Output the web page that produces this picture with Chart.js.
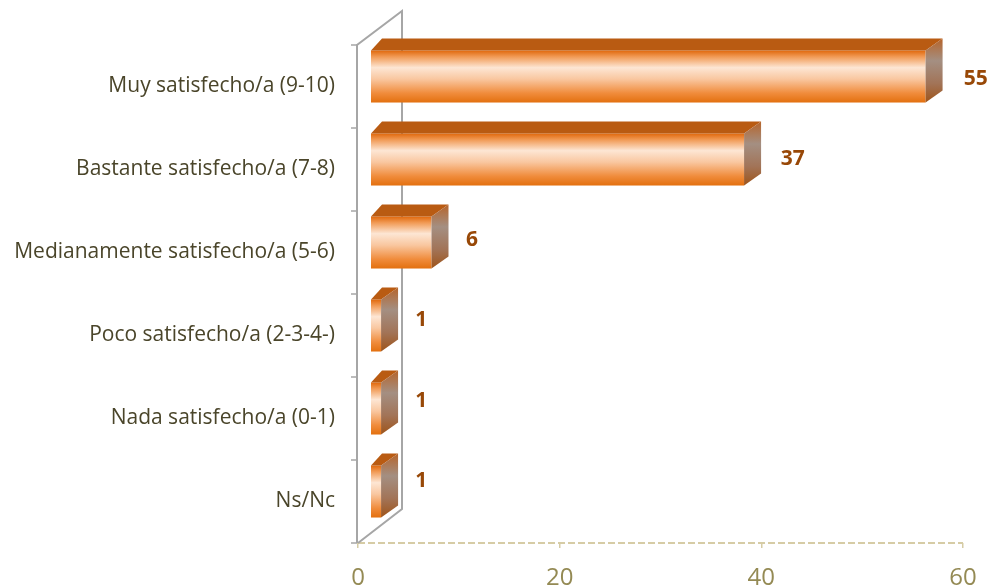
<!DOCTYPE html>
<html>
<head>
<meta charset="utf-8">
<title>Satisfacción</title>
<script src="https://cdn.jsdelivr.net/npm/chart.js@4.4.1/dist/chart.umd.min.js"></script>
<style>
    html, body { margin: 0; padding: 0; background: #fff; }
    #contenedor { width: 995px; height: 587px; }
</style>
</head>
<body>
<div id="contenedor"><canvas id="grafico"></canvas></div>
<script>
// Datos de la encuesta
const categorias = [
    'Muy satisfecho/a (9-10)',
    'Bastante satisfecho/a (7-8)',
    'Medianamente satisfecho/a (5-6)',
    'Poco satisfecho/a (2-3-4-)',
    'Nada satisfecho/a (0-1)',
    'Ns/Nc'
];
const valores = [55, 37, 6, 1, 1, 1];
const ticksX = [0, 20, 40, 60];

// Profundidad del efecto 3D
const FONDO_DX = 45, FONDO_DY = -34;   // pared del fondo
const BARRA_DX = 13, BARRA_DY = -10;   // desplazamiento de la cara frontal
const LADO_DX = 17, LADO_DY = -12;     // cara lateral derecha
const TAPA_DX = 11;                    // esquina trasera izquierda de la tapa

// Pared izquierda, suelo punteado y líneas de fondo
const pared3d = {
    id: 'pared3d',
    beforeDatasetsDraw(chart) {
        const { ctx, chartArea } = chart;
        const izq = chartArea.left - 1;
        const arr = chartArea.top, abj = chartArea.bottom;
        ctx.save();
        // borde delantero del suelo
        ctx.strokeStyle = '#d6cca5';
        ctx.lineWidth = 2;
        ctx.setLineDash([7, 3]);
        ctx.beginPath();
        ctx.moveTo(chartArea.left, abj);
        ctx.lineTo(chartArea.right, abj);
        ctx.stroke();
        ctx.setLineDash([]);

        ctx.strokeStyle = '#a6a6a6';
        ctx.lineWidth = 2;
        ctx.beginPath();
        ctx.moveTo(izq, abj);
        ctx.lineTo(izq, arr);
        ctx.lineTo(izq + FONDO_DX, arr + FONDO_DY);
        ctx.lineTo(izq + FONDO_DX, abj + FONDO_DY);
        ctx.lineTo(izq + 1, abj);
        ctx.stroke();
        // marcas entre categorías
        ctx.lineWidth = 1.5;
        for (let i = 0; i <= categorias.length; i++) {
            const py = Math.round(arr + (abj - arr) * i / categorias.length);
            ctx.beginPath();
            ctx.moveTo(izq - 6, py);
            ctx.lineTo(izq, py);
            ctx.stroke();
        }
        ctx.restore();
    }
};

// Barras con caras frontal, superior y lateral
const barras3d = {
    id: 'barras3d',
    afterDatasetsDraw(chart) {
        const { ctx } = chart;
        const meta = chart.getDatasetMeta(0);
        const escalaX = chart.scales.x;
        meta.data.forEach((barra, i) => {
            const x0 = escalaX.getPixelForValue(0) + BARRA_DX;
            const x1 = barra.x + BARRA_DX;
            const yT = barra.y - barra.height / 2 + BARRA_DY;
            const yB = barra.y + barra.height / 2 + BARRA_DY;

            // cara frontal
            const gFrente = ctx.createLinearGradient(0, yT, 0, yB);
            gFrente.addColorStop(0, '#e0680c');
            gFrente.addColorStop(0.12, '#f19a55');
            gFrente.addColorStop(0.33, '#fde6d4');
            gFrente.addColorStop(0.55, '#f9c7a0');
            gFrente.addColorStop(0.82, '#f08c3c');
            gFrente.addColorStop(1, '#e3700f');
            ctx.fillStyle = gFrente;
            ctx.fillRect(x0, yT, x1 - x0, yB - yT);

            // tapa superior
            ctx.fillStyle = '#b95b12';
            ctx.beginPath();
            ctx.moveTo(x0, yT);
            ctx.lineTo(x1, yT);
            ctx.lineTo(x1 + LADO_DX, yT + LADO_DY);
            ctx.lineTo(x0 + TAPA_DX, yT + LADO_DY);
            ctx.closePath();
            ctx.fill();

            // cara lateral
            const gLado = ctx.createLinearGradient(0, yT + LADO_DY, 0, yB);
            gLado.addColorStop(0, '#b6642a');
            gLado.addColorStop(0.35, '#a48f82');
            gLado.addColorStop(0.7, '#a27458');
            gLado.addColorStop(1, '#9e541a');
            ctx.fillStyle = gLado;
            ctx.beginPath();
            ctx.moveTo(x1, yT);
            ctx.lineTo(x1 + LADO_DX, yT + LADO_DY);
            ctx.lineTo(x1 + LADO_DX, yB + LADO_DY);
            ctx.lineTo(x1, yB);
            ctx.closePath();
            ctx.fill();

            // etiqueta de valor (se separa algo más cuanto más larga es la barra)
            const centro = (yT + yB) / 2;
            const ajuste = 2.5 - (centro - 76) / 414 * 13;
            const sep = 17 + (x1 - x0) / 545 * 4;
            ctx.save();
            ctx.fillStyle = '#984807';
            ctx.font = 'bold 21px "Open Sans"';
            ctx.textAlign = 'left';
            ctx.textBaseline = 'middle';
            ctx.fillText(String(valores[i]), x1 + LADO_DX + sep, centro + ajuste);
            ctx.restore();
        });
    }
};

new Chart(document.getElementById('grafico'), {
    type: 'bar',
    data: {
        labels: categorias,
        datasets: [{
            data: valores,
            backgroundColor: 'rgba(0,0,0,0)',
            borderWidth: 0,
            barPercentage: 0.627,
            categoryPercentage: 1
        }]
    },
    options: {
        indexAxis: 'y',
        responsive: true,
        maintainAspectRatio: false,
        animation: false,
        layout: { padding: { top: 45, right: 32, left: 0, bottom: 0 } },
        plugins: {
            legend: { display: false },
            tooltip: { enabled: false }
        },
        scales: {
            x: {
                min: 0,
                max: 60,
                afterBuildTicks: s => { s.ticks = ticksX.map(v => ({ value: v })); },
                afterFit: s => { s.height = 44; },
                grid: {
                    drawOnChartArea: false,
                    drawTicks: true,
                    tickLength: 5,
                    color: '#d6cca5',
                    lineWidth: 1.5
                },
                border: { display: false },
                ticks: {
                    color: '#948a54',
                    font: { family: 'Open Sans', size: 24 },
                    padding: 16
                }
            },
            y: {
                afterFit: s => { s.width = 358; },
                grid: { display: false, drawTicks: false },
                border: { display: false },
                ticks: {
                    color: '#4a452a',
                    font: { family: 'Open Sans', size: 21 },
                    padding: 23
                }
            }
        }
    },
    plugins: [pared3d, barras3d]
});
</script>
</body>
</html>
